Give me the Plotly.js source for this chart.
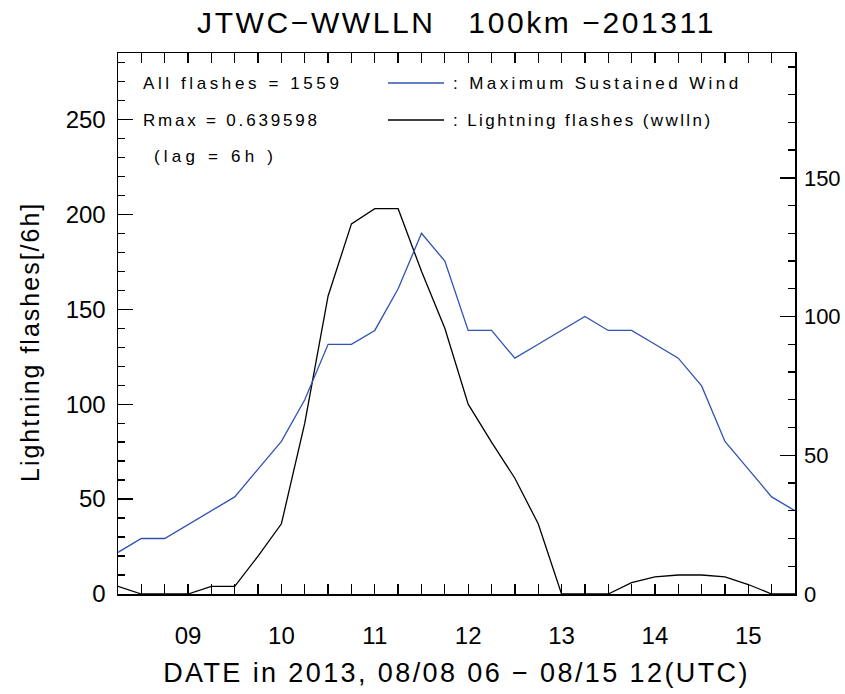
<!DOCTYPE html>
<html>
<head>
<meta charset="utf-8">
<script src="https://cdn.plot.ly/plotly-3.0.1.min.js"></script>
<style>html,body{margin:0;padding:0;background:#fff;}#chart{width:845px;height:694px;}</style>
</head>
<body>
<div id="chart"></div>
<script>
// Time axis: day of August 2013 (6-hourly, 08/08 06 – 08/15 12 UTC)
const timeDays = [8.25, 8.5, 8.75, 9.0, 9.25, 9.5, 9.75, 10.0, 10.25, 10.5,
                  10.75, 11.0, 11.25, 11.5, 11.75, 12.0, 12.25, 12.5, 12.75, 13.0,
                  13.25, 13.5, 13.75, 14.0, 14.25, 14.5, 14.75, 15.0, 15.25, 15.5];
// Maximum sustained wind (right axis)
const windKt = [15, 20, 20, 25, 30, 35, 45, 55, 70, 90,
                90, 95, 110, 130, 120, 95, 95, 85, 90, 95,
                100, 95, 95, 90, 85, 75, 55, 45, 35, 30];
// Lightning flashes per 6h (left axis)
const flashes = [4, 0, 0, 0, 4, 4, 20, 37, 90, 157,
                 195, 203, 203, 170, 140, 100, 80, 61, 37, 0,
                 0, 0, 6, 9, 10, 10, 9, 5, 0, 0];
const dayTicks = [9, 10, 11, 12, 13, 14, 15];
const dayLabels = ['09', '10', '11', '12', '13', '14', '15'];

const titleText = 'JTWC\u2212WWLLN   100km \u2212201311';
const xTitle = 'DATE in 2013, 08/08 06 \u2212 08/15 12(UTC)';
const yTitle = 'Lightning flashes[/6h]';
const infoLines = ['All flashes = 1559', 'Rmax = 0.639598', '(lag = 6h )'];
const legendNames = [': Maximum Sustained Wind', ': Lightning flashes (wwlln)'];
const blueColor = '#2f52b4';

const W = 845, H = 694;
const L = 118, R = 795, T = 53, B = 594;
const px = x => (x - L) / (R - L);
const py = y => (B - y) / (B - T);
const spaced = (s, ls) => '<span style="letter-spacing:' + ls + 'px">' + s + '</span>';

const font = 'Liberation Sans, Arial, sans-serif';

const traces = [
  {x: timeDays, y: windKt, yaxis: 'y2', type: 'scatter', mode: 'lines',
   line: {color: blueColor, width: 1.3}, showlegend: false, hoverinfo: 'skip'},
  {x: timeDays, y: flashes, yaxis: 'y', type: 'scatter', mode: 'lines',
   line: {color: '#000000', width: 1.3}, showlegend: false, hoverinfo: 'skip'}
];

const annFont = {family: font, size: 17, color: '#000'};
const annotations = [
  {text: spaced(infoLines[0], 3.6), x: px(141), y: py(83)},
  {text: spaced(infoLines[1], 2.8), x: px(141), y: py(120)},
  {text: spaced(infoLines[2], 4.2), x: px(152), y: py(156)},
  {text: spaced(legendNames[0], 3.4), x: px(451), y: py(83)},
  {text: spaced(legendNames[1], 2.4), x: px(451), y: py(120)}
].map(a => Object.assign({xref: 'paper', yref: 'paper', showarrow: false, font: annFont,
                          xanchor: 'left', yanchor: 'middle'}, a));
// y-axis title (placed like the reference, slightly below the plot centre)
annotations.push({text: spaced(yTitle, 2), xref: 'paper', yref: 'paper',
  x: px(30), y: py(342), xanchor: 'center', yanchor: 'middle', textangle: -90,
  showarrow: false, font: {family: font, size: 25, color: '#000'}});

const shapes = [
  {type: 'line', xref: 'paper', yref: 'paper', x0: px(388), x1: px(444), y0: py(83), y1: py(83),
   line: {color: blueColor, width: 1.5}},
  {type: 'line', xref: 'paper', yref: 'paper', x0: px(388), x1: px(444), y0: py(120), y1: py(120),
   line: {color: '#000', width: 1.5}}
];

const tickFont = {family: font, size: 24, color: '#000'};

const layout = {
  width: W, height: H,
  margin: {l: L, r: W - R, t: T, b: H - B, pad: 0},
  paper_bgcolor: '#fff', plot_bgcolor: '#fff',
  font: {family: font, color: '#000'},
  title: {text: spaced(titleText, 2.6), x: 0.5, xref: 'paper', xanchor: 'center',
          y: 1 - 22 / H, yref: 'container', yanchor: 'middle',
          font: {family: font, size: 30, color: '#000'}},
  xaxis: {
    range: [8.25, 15.5], showgrid: false, zeroline: false,
    showline: true, linecolor: '#000', linewidth: 1.5, mirror: 'allticks',
    tickmode: 'array', tickvals: dayTicks, ticktext: dayLabels,
    ticks: 'inside', ticklen: 10, tickwidth: 1.3, tickcolor: '#000',
    minor: {tickmode: 'linear', tick0: 0, dtick: 0.25, ticks: 'inside', ticklen: 10, tickwidth: 1.3, tickcolor: '#000', showgrid: false},
    tickfont: tickFont,
    ticklabelstandoff: 20,
    title: {text: spaced(xTitle, 2.4), font: {family: font, size: 27, color: '#000'}, standoff: 15}
  },
  yaxis: {
    range: [0, 285], showgrid: false, zeroline: false,
    showline: true, linecolor: '#000', linewidth: 1.5,
    tickmode: 'linear', tick0: 0, dtick: 50,
    ticks: 'inside', ticklen: 15, tickwidth: 1.3, tickcolor: '#000',
    minor: {tickmode: 'linear', tick0: 0, dtick: 10, ticks: 'inside', ticklen: 7, tickwidth: 1.3, tickcolor: '#000', showgrid: false},
    tickfont: tickFont,
    ticklabelstandoff: 6
  },
  yaxis2: {
    overlaying: 'y', side: 'right', anchor: 'x',
    range: [0, 195], showgrid: false, zeroline: false,
    showline: true, linecolor: '#000', linewidth: 1.5,
    tickmode: 'linear', tick0: 0, dtick: 50,
    ticks: 'inside', ticklen: 15, tickwidth: 1.3, tickcolor: '#000',
    minor: {tickmode: 'linear', tick0: 0, dtick: 10, ticks: 'inside', ticklen: 7, tickwidth: 1.3, tickcolor: '#000', showgrid: false},
    tickfont: {family: font, size: 22, color: '#000'},
    ticklabelstandoff: 3
  },
  annotations: annotations,
  shapes: shapes,
  showlegend: false
};

Plotly.newPlot('chart', traces, layout, {staticPlot: true, displayModeBar: false});
</script>
</body>
</html>
